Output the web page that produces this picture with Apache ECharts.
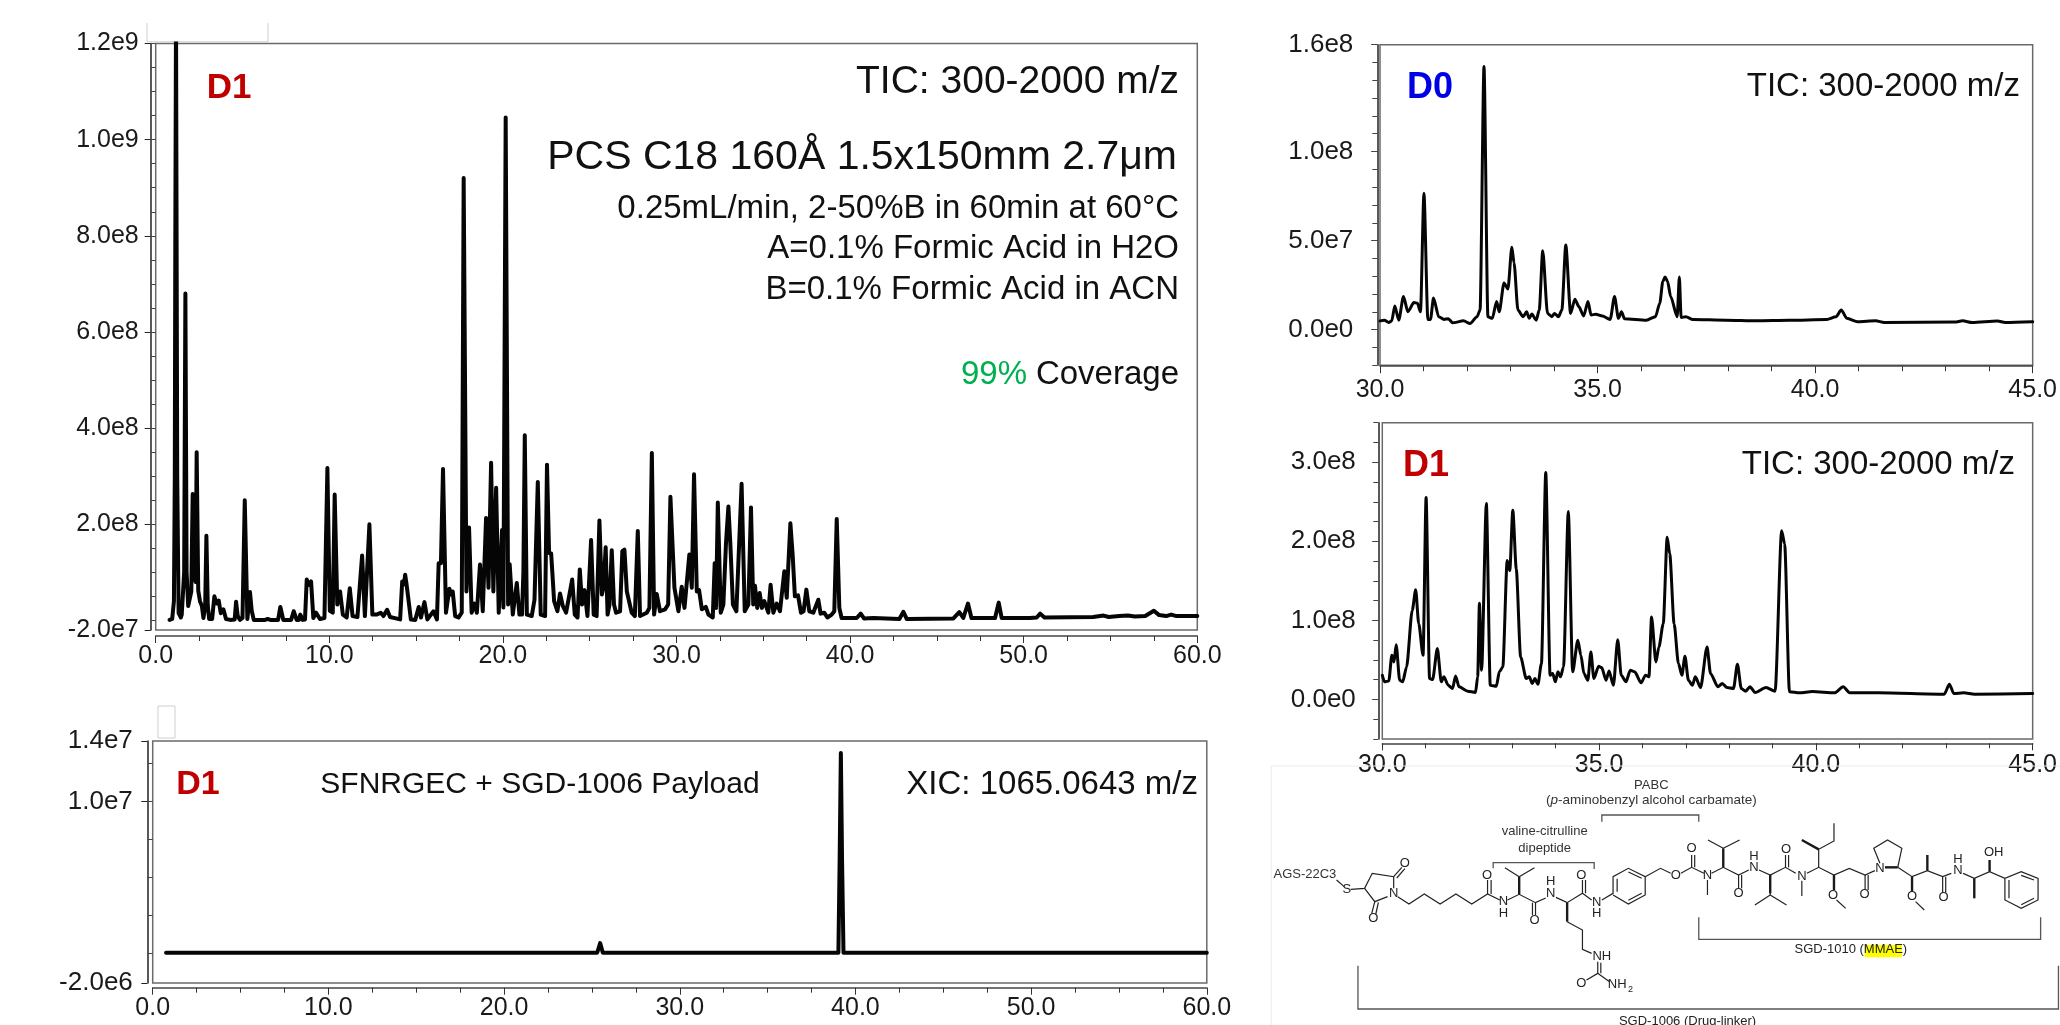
<!DOCTYPE html>
<html>
<head>
<meta charset="utf-8">
<title>TIC / XIC</title>
<script src="https://cdn.jsdelivr.net/npm/echarts@6/dist/echarts.min.js"></script>
<style>
html,body{margin:0;padding:0;background:#fff;overflow:hidden}
#main{width:2060px;height:1025px}
</style>
</head>
<body>
<div id="main"></div>
<script>
// intensities are in millions, times in minutes
var d1TicFull = [[0.8,1],[0.95,3],[1.05,40],[1.1,300],[1.13,800],[1.17,1260],[1.24,300],[1.32,15],[1.45,6],[1.5,12],[1.58,15],[1.64,100],[1.71,680],[1.78,100],[1.87,30],[1.95,30],[2.05,60],[2.13,263],[2.22,100],[2.3,80],[2.36,350],[2.45,62],[2.55,40],[2.66,30],[2.75,5],[2.85,30],[2.92,176],[3.0,30],[3.08,3],[3.25,3],[3.38,50],[3.5,35],[3.63,41],[3.75,15],[3.9,23],[4.05,3],[4.3,1],[4.55,2],[4.63,39],[4.72,10],[4.85,1],[5.0,5],[5.13,250],[5.28,3],[5.43,59],[5.53,20],[5.65,1],[6.3,1],[6.45,3],[6.6,1],[7.05,1],[7.18,28],[7.35,1],[7.8,1],[7.95,19],[8.12,1],[8.25,1],[8.33,12],[8.47,1],[8.6,2],[8.7,85],[8.83,74],[8.95,81],[9.08,5],[9.24,16],[9.46,3],[9.72,5],[9.89,317],[10.03,20],[10.2,16],[10.31,262],[10.46,33],[10.62,60],[10.78,12],[11.0,6],[11.18,67],[11.34,9],[11.62,7],[11.89,135],[12.05,9],[12.31,200],[12.48,12],[12.72,12],[12.96,16],[13.12,9],[13.33,22],[13.5,7],[14.08,2],[14.2,81],[14.3,75],[14.37,95],[14.45,75],[14.5,73],[14.7,2],[14.95,1],[15.15,28],[15.28,6],[15.48,38],[15.65,2],[16.0,19],[16.2,2],[16.3,119],[16.43,119],[16.55,315],[16.72,16],[16.92,66],[17.0,54],[17.11,60],[17.25,9],[17.44,6],[17.63,16],[17.74,920],[17.9,60],[18.05,193],[18.2,16],[18.36,35],[18.5,16],[18.68,116],[18.84,19],[19.03,213],[19.17,68],[19.32,328],[19.45,60],[19.61,276],[19.76,16],[19.95,188],[20.03,27],[20.16,1046],[20.3,33],[20.39,117],[20.57,12],[20.8,78],[20.95,12],[21.1,12],[21.18,100],[21.26,385],[21.38,12],[21.66,9],[21.82,43],[22.01,288],[22.18,12],[22.43,9],[22.54,324],[22.66,140],[22.78,139],[22.95,40],[23.14,19],[23.29,56],[23.45,30],[23.64,16],[23.99,85],[24.14,12],[24.3,6],[24.43,106],[24.56,33],[24.7,63],[24.87,9],[25.08,167],[25.23,12],[25.4,9],[25.56,208],[25.7,54],[25.79,68],[25.92,152],[26.03,12],[26.14,33],[26.27,146],[26.4,33],[26.52,16],[26.75,19],[26.88,144],[27.0,147],[27.14,60],[27.42,16],[27.6,9],[27.77,186],[27.9,9],[28.29,16],[28.44,26],[28.58,348],[28.71,12],[28.86,55],[29.05,19],[29.34,23],[29.52,33],[29.65,257],[29.78,150],[29.88,68],[30.11,19],[30.3,70],[30.46,26],[30.74,137],[30.88,68],[31.01,304],[31.17,60],[31.3,63],[31.46,23],[31.69,28],[31.84,12],[32.09,6],[32.2,119],[32.28,26],[32.38,245],[32.55,16],[32.7,33],[32.85,160],[32.99,237],[33.1,160],[33.25,33],[33.45,19],[33.55,16],[33.75,284],[33.93,19],[34.14,33],[34.29,235],[34.42,33],[34.52,72],[34.65,26],[34.79,57],[34.92,26],[35.06,40],[35.29,16],[35.42,74],[35.58,16],[35.77,35],[35.96,19],[36.21,102],[36.35,47],[36.56,202],[36.69,137],[36.82,50],[37.0,52],[37.17,16],[37.32,19],[37.48,64],[37.65,19],[37.88,16],[38.17,43],[38.3,14],[38.51,16],[38.69,6],[38.94,12],[39.09,19],[39.23,211],[39.38,26],[39.51,5],[40.38,5],[40.61,14],[40.8,4],[41.34,5],[42.84,3],[43.07,18],[43.26,3],[45.95,4],[46.29,17],[46.52,5],[46.79,35],[46.99,5],[48.35,5],[48.56,37],[48.73,5],[50.36,5],[50.75,6],[50.95,14],[51.2,6],[54,7],[54.6,10],[54.9,7],[55.5,9],[56,10],[56.4,8],[57,9],[57.5,20],[57.8,11],[58.2,9],[58.5,12],[58.8,9],[60,9]];

var d1Xic = [[0.76,0],[25.3,0],[25.47,0.64],[25.62,0],[36.1,0],[36.2,0.1],[36.3,0],[39.03,0],[39.1,6],[39.17,13.2],[39.24,6],[39.32,0],[60,0]];

var d0Tic = [[30.0,4.9],[30.1,5.3],[30.2,4],[30.27,4.9],[30.34,13.3],[30.43,5.3],[30.54,18.6],[30.64,10],[30.78,15.2],[30.86,14.8],[30.93,10],[31.01,76.6],[31.1,5.7],[31.16,5.7],[31.23,17.7],[31.35,7.2],[31.47,5.7],[31.57,6.1],[31.67,3.8],[31.92,4.9],[32.07,3.4],[32.23,7.2],[32.3,11],[32.39,147.8],[32.48,7.2],[32.58,6.3],[32.68,15.8],[32.74,10],[32.85,26.2],[32.94,22.8],[33.03,46.2],[33.08,37.6],[33.17,11],[33.29,7.2],[33.37,10],[33.43,6.3],[33.49,8.7],[33.59,5.3],[33.66,11],[33.74,44.3],[33.85,9.1],[33.95,7.2],[34.01,9.1],[34.1,7.2],[34.18,11],[34.27,47.5],[34.38,9.1],[34.48,17.1],[34.57,12.9],[34.68,7.6],[34.78,15.8],[34.85,8.2],[34.96,8.6],[35.11,7.6],[35.29,5.7],[35.39,18.6],[35.48,6.3],[35.55,10],[35.62,6.1],[36.12,5.3],[36.33,7.2],[36.43,14.8],[36.5,27],[36.55,29.6],[36.61,27],[36.68,18.6],[36.83,7.2],[36.88,29.6],[36.92,6.8],[37.03,7.2],[37.19,5.7],[37.95,5.3],[38.65,4.9],[39.4,5.2],[40.27,5.7],[40.48,7.2],[40.6,11],[40.73,6.3],[40.98,4.4],[41.39,4.9],[41.59,4],[43.21,4.2],[43.39,4.9],[43.61,4],[44.19,4.8],[44.37,4],[45,4.4]];

var d1TicZoom = [[30.0,30.7],[30.05,22.3],[30.15,23.5],[30.22,55.9],[30.27,47.5],[30.32,69.3],[30.4,24.4],[30.47,22.3],[30.56,41.2],[30.69,112.6],[30.77,138.6],[30.84,95.8],[30.94,55.9],[31.01,255.4],[31.09,26.5],[31.16,25.2],[31.27,64.3],[31.36,22.3],[31.42,28.6],[31.52,18],[31.62,13.9],[31.69,29.8],[31.77,16],[31.97,10.5],[32.15,8.8],[32.2,28.6],[32.24,121.8],[32.29,37],[32.4,247.8],[32.49,18],[32.63,16.8],[32.7,34.9],[32.78,41.2],[32.88,175.6],[32.94,163],[33.01,239.4],[33.09,165],[33.19,53.8],[33.32,26.5],[33.39,28.6],[33.46,20.2],[33.52,26.5],[33.59,19.3],[33.67,45.4],[33.77,286.9],[33.87,30.7],[33.93,32.8],[33.99,22.3],[34.05,34.9],[34.11,28.6],[34.18,41.2],[34.29,237.7],[34.39,34.9],[34.51,74.8],[34.58,55.9],[34.65,32.8],[34.74,24.4],[34.81,60],[34.88,26.5],[34.99,42],[35.06,40.3],[35.16,24.4],[35.23,36.1],[35.33,18],[35.43,75.6],[35.51,30.7],[35.62,22.3],[35.72,37],[35.82,34.9],[35.97,21],[36.07,30.7],[36.15,28.6],[36.21,104.2],[36.31,47.5],[36.38,66.4],[36.48,95.8],[36.57,205],[36.63,184],[36.73,95.8],[36.83,45.4],[36.91,30.7],[36.98,54.6],[37.06,24.4],[37.15,18],[37.22,28.6],[37.34,15.1],[37.49,66.4],[37.57,32.8],[37.74,16],[37.84,20.2],[37.95,15.1],[38.1,13.9],[38.19,44.5],[38.28,13.9],[38.38,10.5],[38.48,16],[38.6,8.8],[38.85,15.1],[39.06,10.5],[39.21,213.4],[39.28,196.6],[39.39,9.7],[39.62,8.4],[39.92,10.1],[40.43,8.4],[40.63,16],[40.78,8.4],[41.44,8.4],[42.96,6.7],[43.08,19.3],[43.18,7.6],[43.41,8.4],[43.66,6.7],[45,7.6]];

// tick values
var d1FullTicks = [-2e7,2e8,4e8,6e8,8e8,1e9,1.2e9];
var xicTicks = [-2e6,1e7,1.4e7];
var d0Ticks = [0,5e7,1e8,1.6e8];
var d1ZoomTicks = [0,1e8,2e8,3e8];

var FONT = '"Liberation Sans", Arial, sans-serif';

function expLabel(v){
    return Number(v).toExponential(1).replace('e+','e');
}
function minorList(min,max,step){
    var out = [];
    for(var i=Math.ceil(min/step);i*step<=max;i++){ out.push(i*step); }
    return out;
}
function toData(list){
    return list.map(function(p){ return [p[0],p[1]*1e6]; });
}

var panels = [
    {grid:{left:155.7,width:1041.6,top:43.5,height:586.5},x:[0,60,10,4],y:[-2e7,1.2e9],ticks:d1FullTicks,step:5e7,data:d1TicFull,lw:4,smooth:0,xOff:6,xMargin:8,yOff:5,yMargin:12,xFont:25,yFont:25,yPad:0},
    {grid:{left:152.7,width:1054.1,top:741,height:242},x:[0,60,10,4],y:[-2e6,1.4e7],ticks:xicTicks,step:2.5e6,data:d1Xic,lw:4,smooth:0,xOff:4.7,xMargin:8,yOff:5.4,yMargin:14.5,xFont:25,yFont:26,yPad:0},
    {grid:{left:1380,width:661.7,top:44.7,height:320.5},x:[30,45,5,5],y:[-2e7,1.6e8],ticks:d0Ticks,step:1e7,data:d0Tic,lw:3,smooth:0.25,xOff:1,xMargin:11,yOff:2.7,yMargin:24,xFont:25,yFont:26,yPad:0},
    {grid:{left:1382.3,width:661.7,top:422.7,height:316.3},x:[30,45,5,5],y:[-5e7,3.5e8],ticks:d1ZoomTicks,step:2.5e7,data:d1TicZoom,lw:3,smooth:0.25,xOff:4.3,xMargin:9,yOff:4,yMargin:22.5,xFont:25,yFont:26,yPad:4}
];

var grids=[],xAxes=[],yAxes=[],seriesList=[];
panels.forEach(function(p,i){
    grids.push({left:p.grid.left,top:p.grid.top,width:p.grid.width,height:p.grid.height,show:true,backgroundColor:'#fff',borderColor:'#6a6a6a',borderWidth:1.5,containLabel:false});
    xAxes.push({
        type:'value',gridIndex:i,min:p.x[0],max:p.x[1],interval:p.x[2],position:'bottom',offset:p.xOff,
        axisLine:{onZero:false,lineStyle:{color:'#444',width:1.5}},
        axisTick:{length:7,lineStyle:{color:'#333',width:1}},
        minorTick:{show:true,splitNumber:p.x[3],length:5,lineStyle:{color:'#333',width:1}},
        axisLabel:{margin:p.xMargin,color:'#1a1a1a',fontSize:p.xFont,fontFamily:FONT,hideOverlap:false,formatter:function(v){return Number(v).toFixed(1);}},
        splitLine:{show:false}
    });
    // labelled ticks
    yAxes.push({
        type:'value',gridIndex:i,min:p.y[0],max:p.y[1],position:'left',offset:p.yOff,
        axisLine:{onZero:false,show:true,lineStyle:{color:'#222',width:1.5}},
        axisTick:{show:true,length:6,customValues:p.ticks,lineStyle:{color:'#222',width:1}},
        axisLabel:{show:true,margin:p.yMargin,padding:[p.yPad,0,0,0],color:'#1a1a1a',fontSize:p.yFont,fontFamily:FONT,customValues:p.ticks,formatter:expLabel},
        splitLine:{show:false}
    });
    // the small ticks between them
    yAxes.push({
        type:'value',gridIndex:i,min:p.y[0],max:p.y[1],position:'left',offset:p.yOff,
        axisLine:{show:false},
        axisTick:{show:true,length:5,customValues:minorList(p.y[0],p.y[1],p.step),lineStyle:{color:'#444',width:1}},
        axisLabel:{show:false},
        splitLine:{show:false}
    });
    seriesList.push({
        type:'line',xAxisIndex:i,yAxisIndex:i*2,data:toData(p.data),showSymbol:false,symbol:'none',
        smooth:p.smooth,smoothMonotone:'x',
        sampling:false,clip:true,silent:true,animation:false,
        lineStyle:{color:'#050505',width:p.lw,join:'round',cap:'round'},z:3
    });
});

function txt(x,y,text,size,opt){
    opt = opt||{};
    var st = {x:x,y:y,text:text,fill:opt.color||'#111',textAlign:opt.align||'right',textVerticalAlign:'middle',
        font:(opt.weight?opt.weight+' ':'')+size+'px '+FONT};
    if(opt.rich){ st.rich = opt.rich; }
    return {type:'text',z:10,silent:true,style:st};
}
function grayLines(points){
    return {type:'polyline',z:1,silent:true,shape:{points:points},style:{stroke:'#cfcfcf',lineWidth:1,fill:null}};
}

var notes = [
    txt(229,88,'D1',35,{color:'#C00000',weight:'bold',align:'center'}),
    txt(1179,82,'TIC: 300-2000 m/z',39),
    txt(1177,158,'PCS C18 160Å 1.5x150mm 2.7μm',41),
    txt(1179,209,'0.25mL/min, 2-50%B in 60min at 60°C',33),
    txt(1179,248.5,'A=0.1% Formic Acid in H2O',33),
    txt(1179,289.5,'B=0.1% Formic Acid in ACN',33),
    txt(1179,374.5,'Coverage',33),
    txt(1027,374.5,'99%',33,{color:'#00B050'}),

    txt(198,785,'D1',34,{color:'#C00000',weight:'bold',align:'center'}),
    txt(540,785,'SFNRGEC + SGD-1006 Payload',30,{align:'center'}),
    txt(1198,785,'XIC: 1065.0643 m/z',33),

    txt(1430,88,'D0',36,{color:'#0000E6',weight:'bold',align:'center'}),
    txt(2020,87,'TIC: 300-2000 m/z',33),
    txt(1426,466,'D1',36,{color:'#C00000',weight:'bold',align:'center'}),
    txt(2015,465,'TIC: 300-2000 m/z',33),

    grayLines([[147,23],[147,41.8],[268,41.8],[268,23]]),
    {type:'rect',z:1,silent:true,shape:{x:158,y:706,width:17,height:32},style:{stroke:'#cfcfcf',lineWidth:1,fill:'#fff'}}
];

// the drug-linker drawing pasted beside the charts, in crop units
var SX = 1260, SY = 760, KX = 1.96, KY = 3;
function sp(a){ return a.map(function(p){ return [SX+p[0]/KX,SY+p[1]/KY]; }); }
var bonds = [
    [[150,360],[165,380]],[[178,388],[205,385],[220,340],[262,350],[262,385]],[[205,385],[225,425],[250,410]],
    [[262,350],[278,322]],[[268,354],[284,326]],[[225,425],[219,460]],[[232,427],[227,462]],
    [[270,410],[292,432],[322,402],[353,432],[384,402],[415,432],[446,402],[470,420]],[[446,402],[446,360]],[[453,402],[453,360]],
    [[485,420],[508,403],[540,428],[560,414]],[[540,428],[540,465]],[[534,428],[534,465]],
    [[508,350],[480,323]],[[508,350],[538,323]],
    [[580,412],[602,428],[632,400],[650,420]],[[632,400],[632,360]],[[638,400],[638,360]],
    [[602,485],[632,510],[632,568],[650,580]],[[662,605],[662,640],[640,660]],[[668,608],[668,640]],[[662,640],[685,665]],
    [[670,420],[692,400],[692,350],[722,325],[755,350],[755,405],[722,432],[692,405]],[[700,395],[700,356]],[[722,336],[748,355]],[[748,400],[722,421]],
    [[755,350],[785,325],[805,340]],[[825,340],[846,322],[870,340]],[[846,322],[846,285]],[[852,322],[852,285]],
    [[877,360],[877,405]],[[885,340],[908,322],[938,345],[958,330]],[[908,265],[878,240]],[[908,265],[940,240]],[[938,345],[938,385]],[[944,345],[944,385]],
    [[978,330],[1000,345],[1030,322],[1050,340]],[[1000,345],[1000,405]],[[1000,405],[970,435]],[[1000,405],[1032,435]],[[1030,322],[1030,285]],[[1036,322],[1036,285]],
    [[1062,362],[1062,408]],[[1072,340],[1095,322],[1125,345],[1155,325],[1186,345],[1205,332]],[[1095,322],[1095,268],[1125,243],[1125,190]],[[1130,420],[1148,445]],[[1186,345],[1186,390]],[[1192,345],[1192,390]],
    [[1215,310],[1203,265],[1230,240],[1258,265],[1250,322]],[[1250,322],[1278,350],[1308,332],[1338,350],[1355,340]],[[1285,425],[1302,450]],[[1338,350],[1338,398]],[[1344,350],[1344,398]],
    [[1378,340],[1400,355],[1430,335],[1460,355],[1492,335],[1525,355],[1525,420],[1492,445],[1460,420],[1460,355]],[[1468,360],[1468,415]],[[1492,346],[1517,360]],[[1517,415],[1492,434]]
];
var wedges = [
    [[508,403],[508,350]],[[602,428],[602,485]],[[908,322],[908,265]],[[1000,345],[1000,400]],[[1095,268],[1062,240]],
    [[1125,345],[1125,390]],[[1250,322],[1225,322]],[[1278,350],[1278,395]],[[1308,332],[1308,285]],[[1400,355],[1400,415]],[[1430,335],[1430,300]]
];
var brackets = [
    [[457,325],[457,308],[655,308],[655,327]],[[670,185],[670,165],[860,165],[860,185]],
    [[860,472],[860,538],[1530,538],[1530,472]],[[192,617],[192,747],[1565,747],[1565,617]]
];
var atoms = [
    ['S',170,388],['N',262,400],['O',284,310],['O',222,475],['O',445,345],['N',477,425],['H',477,460],['O',538,480],['O',630,345],['H',570,365],['N',570,400],
    ['N',660,427],['H',660,460],['O',815,345],['O',846,265],['N',877,345],['O',938,400],['H',968,290],['N',968,322],['O',1031,268],['N',1062,348],['O',1123,405],
    ['O',1185,403],['N',1215,325],['O',1278,410],['O',1340,412],['H',1368,298],['N',1368,330],['OH',1438,277],['NH',670,588],['O',630,670],['NH',700,672],['2',726,690]
];
var structure = [
    grayLines(sp([[22,1000],[22,18],[1568,18]]))
];
structure[0].style.stroke = '#ececec';
bonds.forEach(function(b){
    structure.push({type:'polyline',z:5,silent:true,shape:{points:sp(b)},style:{stroke:'#222',lineWidth:1.2,fill:null}});
});
wedges.forEach(function(b){
    structure.push({type:'polyline',z:5,silent:true,shape:{points:sp(b)},style:{stroke:'#1a1a1a',lineWidth:2.4,fill:null}});
});
brackets.forEach(function(b){
    structure.push({type:'polyline',z:5,silent:true,shape:{points:sp(b)},style:{stroke:'#555',lineWidth:1.3,fill:null}});
});
atoms.forEach(function(a){
    structure.push(txt(SX+a[1]/KX,SY+a[2]/KY,a[0],a[0]==='2'?9:13,{align:'center',color:'#222'}));
});
structure.push({type:'rect',z:5,silent:true,shape:{x:SX+1185/KX,y:SY+555/KY,width:73/KX,height:37/KY},style:{fill:'#FFFF00'}});
structure.push(txt(SX+767/KX,SY+77/KY,'PABC',13,{align:'center',color:'#333'}));
structure.push(txt(SX+767/KX,SY+122/KY,'({i|p}-aminobenzyl alcohol carbamate)',13.5,{align:'center',color:'#333',rich:{i:{font:'italic 13.5px '+FONT,fill:'#333'}}}));
structure.push(txt(SX+558/KX,SY+215/KY,'valine-citrulline',13,{align:'center',color:'#333'}));
structure.push(txt(SX+558/KX,SY+265/KY,'dipeptide',13,{align:'center',color:'#333'}));
structure.push(txt(SX+88/KX,SY+342/KY,'AGS-22C3',13,{align:'center',color:'#333'}));
structure.push(txt(SX+1158/KX,SY+568/KY,'SGD-1010 (MMAE)',13,{align:'center',color:'#222'}));
structure.push(txt(SX+838/KX,SY+785/KY,'SGD-1006 (Drug-linker)',13,{align:'center',color:'#222'}));

var option = {
    backgroundColor:'#fff',
    animation:false,
    grid:grids,
    xAxis:xAxes,
    yAxis:yAxes,
    series:seriesList,
    graphic:{elements:notes.concat(structure)}
};

var chart = echarts.init(document.getElementById('main'),null,{renderer:'canvas'});
chart.setOption(option);
</script>
</body>
</html>
